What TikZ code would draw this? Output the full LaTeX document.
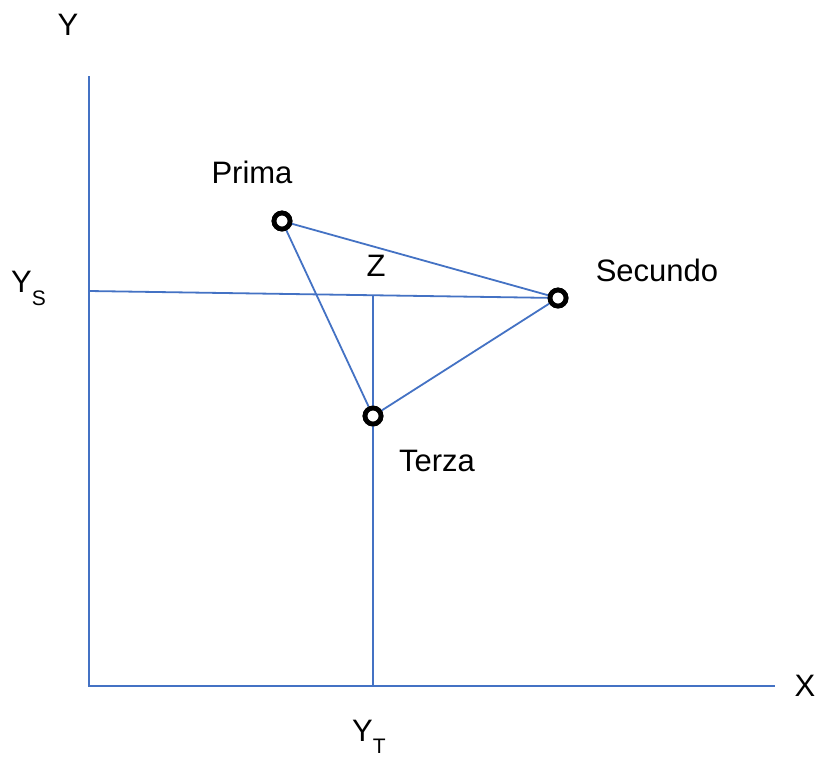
\documentclass[tikz,border=0pt]{standalone}
\usepackage{fontspec}
\setmainfont{Liberation Sans}
\begin{document}
\begin{tikzpicture}[x=1pt,y=-1pt,
  pt/.style={circle, draw=black, fill=white, line width=4.8pt, minimum size=16pt, inner sep=0pt},
  lbl/.style={font=\fontsize{31}{36}\selectfont, inner sep=0pt}]
\definecolor{lblue}{HTML}{4472C4}
\tikzset{ln/.style={draw=lblue, line width=1.8pt}}
\useasboundingbox[fill=white] (0,0) rectangle (825,756);
% axes
\coordinate (ytop) at (89,76);
\coordinate (org) at (89,686);
\coordinate (xend) at (775,686);
\coordinate (ysl) at (89,291);
\coordinate (zt) at (373,296);
\coordinate (yt) at (373,686);
\draw[ln] (ytop) -- (org) -- (xend);
% points
\node[pt] (P) at (282,221) {};
\node[pt] (S) at (558,298) {};
\node[pt] (T) at (373,416) {};
\draw[ln] (ysl) -- (S.center);
\draw[ln] (zt) -- (T);
\draw[ln] (T) -- (yt);
\draw[ln] (P) -- (S);
\draw[ln] (S) -- (T);
\draw[ln] (T) -- (P);
\node[pt] at (P) {};
\node[pt] at (S) {};
\node[pt] at (T) {};
% labels
\node[lbl] (ly) at (68,25) {Y};
\node[lbl] (lx) at (805,686) {X};
\node[lbl, anchor=base west] (lys) at (11,292) {Y\raisebox{-13pt}{\fontsize{21}{24}\selectfont S}};
\node[lbl, anchor=base west] (lyt) at (352,741) {Y\raisebox{-12pt}{\fontsize{21}{24}\selectfont T}};
\node[lbl] (lz) at (376,266) {Z};
\node[lbl] (lp) at (252,172) {Prima};
\node[lbl] (ls) at (657,270) {Secundo};
\node[lbl] (lt) at (437,461) {Terza};
\end{tikzpicture}
\end{document}
